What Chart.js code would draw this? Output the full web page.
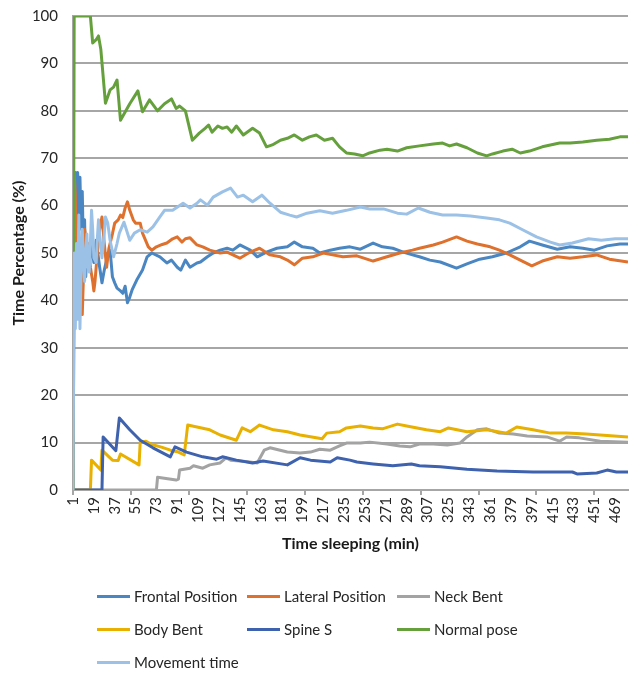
<!DOCTYPE html>
<html><head><meta charset="utf-8">
<script src="https://cdn.jsdelivr.net/npm/chart.js@4/dist/chart.umd.min.js"></script>
<style>
html,body{margin:0;padding:0;background:#fff;}
#wrap{position:relative;width:629px;height:673px;overflow:hidden;}
canvas{position:absolute;left:0;top:0;}
.lg{position:absolute;display:flex;align-items:center;font:15px Lato, sans-serif;color:#262626;white-space:nowrap;height:20px;}
.lg .ln{display:inline-block;width:33px;height:3px;margin-right:4px;}
</style></head><body>
<div id="wrap"><canvas id="c" width="629" height="673"></canvas><div id="legend"></div></div>
<script>
// ---- Tick labels ----
const xTickLabels = [1,19,37,55,73,91,109,127,145,163,181,199,217,235,253,271,289,307,325,343,361,379,397,415,433,451,469];
const xTickMarks = [1,51,101,151,201,251,301,351,401,451];
const yTicks = [0,10,20,30,40,50,60,70,80,90,100];

// ---- Series (minute, value) ----
const frontalMin = [1,2,3,4,5,6,7,8,9,10,11,12,13,15,17,19,21,24,26,28,30,33,35,37,39,42,44,46,48,50,52,56,61,65,69,76,82,86,91,94,98,102,108,111,117,122,128,134,139,145,154,160,168,177,186,192,199,208,214,223,231,240,249,260,268,277,286,294,300,309,318,332,341,352,363,375,387,395,406,419,430,441,451,462,473,480];
const frontalVal = [0,45,67,48,67,58,66,55,63,50,57,45,50,47,52,48,52.7,47,43.7,46.4,48.5,50.6,45,43.7,42.6,42,41.5,43,39.5,40.7,42.2,44.3,46.4,49.2,50,49.2,47.9,48.5,47,46.4,48.5,47,47.9,48.1,49.2,50,50.6,51,50.6,51.7,50.6,49.2,50.2,51,51.3,52.3,51.3,51,50,50.6,51,51.3,50.8,52.1,51.3,51,50.2,49.6,49.2,48.5,48.1,46.8,47.7,48.7,49.2,50,51.3,52.5,51.7,50.8,51.3,51,50.6,51.5,51.9,51.9];

const lateralMin = [1,2,3,4,5,6,7,8,9,10,11,12,13,14,16,18,19,20,22,24,26,28,30,32,35,37,40,42,44,46,48,50,53,55,59,61,66,69,73,78,82,87,91,95,98,102,108,113,119,128,134,139,145,154,162,171,180,186,192,199,208,217,225,234,246,260,272,283,294,300,312,320,332,341,350,361,369,378,387,397,406,419,430,441,453,464,480];
const lateralVal = [0,67,62,45,55,40,50,44,37,45,55,53,48,52,47,44,42,44,50,55,57.6,52,47,51,54,56.3,57,58,57.5,59.5,60.8,59,57,56.3,56.3,54.2,51.3,50.6,51.3,51.8,52.1,53,53.4,52.3,53,53.2,51.7,51.3,50.6,50,50.2,49.6,48.9,50.2,51,49.6,49.2,48.5,47.5,48.9,49.2,50,49.6,49.2,49.4,48.3,49.2,50,50.6,51,51.7,52.3,53.4,52.5,51.9,51.3,50.6,49.6,48.5,47.3,48.3,49.2,48.9,49.2,49.6,48.7,48.1];

const neckMin = [1,73,74,90,92,93,102,105,113,119,128,133,137,150,160,166,171,186,197,206,214,223,231,237,249,257,272,283,292,300,312,324,335,341,350,358,369,381,393,410,421,427,438,456,480];
const neckVal = [0,0,2.7,2.1,2.3,4.2,4.6,5.1,4.6,5.3,5.7,6.8,6.3,6,5.7,8.4,8.9,8,7.8,8,8.6,8.4,9.3,9.9,9.9,10.1,9.7,9.3,9.1,9.7,9.7,9.5,9.9,11.2,12.7,12.9,12,11.8,11.4,11.2,10.3,11.2,11,10.3,10.1];

const bodyMin = [1,16,17,25,26,35,40,42,58,59,64,69,78,85,92,97,100,108,119,128,142,147,154,162,174,186,197,216,220,231,237,249,260,268,281,289,306,318,325,341,358,375,384,398,413,427,444,456,480];
const bodyVal = [0,0,6.3,4.2,8.4,6.3,6.2,7.6,5.3,10.1,10.3,9.6,9,8.4,8,7.4,13.7,13.3,12.7,11.6,10.5,13.1,12.3,13.7,12.7,12.3,11.6,10.8,12,12.3,13.1,13.5,13.1,12.9,13.9,13.5,12.7,12.3,13.1,12.3,12.7,12,13.3,12.7,12,12,11.8,11.6,11.2];

const spineMin = [1,26,27,38,41,50,59,70,85,89,99,113,125,130,142,156,165,186,197,206,223,229,240,246,260,277,293,300,318,341,367,398,432,436,453,462,470,480];
const spineVal = [0,0,11.2,8.3,15.2,12.7,10.5,8.9,7,9.1,8,7,6.5,7,6.3,5.7,6.1,5.3,6.8,6.3,5.9,6.8,6.3,5.9,5.5,5.1,5.5,5.1,4.9,4.4,4,3.8,3.8,3.4,3.6,4.2,3.8,3.8];

const normalMin = [1,2,15,16,18,21,23,25,29,33,36,39,42,50,57,61,67,74,80,86,90,93,98,104,110,115,118,121,126,130,134,138,142,148,156,162,168,173,180,186,192,199,205,211,218,225,231,237,244,251,257,266,272,281,289,300,312,320,326,332,341,350,358,363,372,380,387,395,406,421,430,441,453,464,473,480];
const normalVal = [0,100,100,100,94.3,95,95.8,93,81.6,84.4,85,86.5,78,81.5,84.2,79.8,82.3,80,81.5,82.5,80.5,81,80,73.8,75.3,76.3,77,75.5,76.8,76.3,76.6,75.5,76.8,74.9,76.3,75.3,72.4,72.8,73.8,74.2,74.9,73.8,74.5,74.9,73.8,74.2,72.4,71.1,70.9,70.5,71.1,71.7,71.9,71.5,72.2,72.6,73,73.2,72.6,73,72.2,71.1,70.5,70.9,71.5,71.9,71.1,71.5,72.4,73.2,73.2,73.4,73.8,74,74.5,74.5];

const movementMin = [1,2,3,4,5,6,7,8,9,10,11,12,13,14,15,16,17,18,19,21,22,23,24,26,28,29,31,33,36,39,41,45,50,54,59,65,70,76,80,87,96,102,108,111,117,122,130,137,143,148,156,164,171,180,188,194,203,214,225,237,249,257,269,281,289,299,309,320,332,344,358,369,378,389,401,413,421,432,446,457,469,480];
const movementVal = [0,50,34,52,36,58,34,47,55,49,44,50,54,47,46,52,59,55,49,48,53,57,54,49,54,57.6,56.3,52.7,49.2,52,54.2,56.5,52.7,54.2,54.9,54.4,55.5,57.6,59,59,60.5,59.5,60.5,61.2,60.1,61.8,62.9,63.7,61.8,62.2,60.8,62.2,60.5,58.6,58,57.6,58.4,58.9,58.4,59,59.7,59.3,59.3,58.4,58.2,59.5,58.6,58,58,57.8,57.4,57,56.3,54.9,53.4,52.3,51.7,52.1,53,52.7,53,53];

const seriesNames = ['Frontal Position','Lateral Position','Neck Bent','Body Bent','Spine S','Normal pose','Movement time'];
const seriesColors = ['#4a86c2','#de712d','#a3a3a3','#e8b000','#3e62ad','#65a03d','#9cc1e6'];
const seriesMins = [frontalMin, lateralMin, neckMin, bodyMin, spineMin, normalMin, movementMin];
const seriesVals = [frontalVal, lateralVal, neckVal, bodyVal, spineVal, normalVal, movementVal];

const allXTicks = Array.from(new Set(xTickLabels.concat(xTickMarks))).sort((a,b)=>a-b);

function build(){
  const datasets = seriesNames.map((name, i) => ({
    label: name,
    data: seriesMins[i].map((m, k) => ({x: m, y: seriesVals[i][k]})),
    borderColor: seriesColors[i],
    backgroundColor: seriesColors[i],
    borderWidth: 3,
    pointRadius: 0,
    tension: 0,
    fill: false,
    borderJoinStyle: 'round',
    order: seriesNames.length - 1 - i
  }));

  new Chart(document.getElementById('c'), {
    type: 'line',
    data: { datasets },
    options: {
      responsive: false,
      animation: false,
      devicePixelRatio: 1,
      layout: { padding: { left: 0, right: 1, top: 16, bottom: 116 } },
      plugins: { legend: { display: false }, tooltip: { enabled: false } },
      scales: {
        x: {
          type: 'linear', min: 1, max: 480,
          afterBuildTicks: s => { s.ticks = allXTicks.map(v => ({ value: v })); },
          afterFit: s => { s.height = 67; s.paddingLeft = 0; s.paddingRight = 0; },
          ticks: {
            autoSkip: false, minRotation: 90, maxRotation: 90, padding: 2,
            color: '#262626', font: { family: 'Lato', size: 15 },
            callback: v => xTickLabels.includes(v) ? String(v) : ''
          },
          grid: {
            drawOnChartArea: false, drawTicks: true, tickLength: 5, lineWidth: 2,
            color: c => (c.tick && xTickMarks.includes(c.tick.value)) ? '#a6a6a6' : 'rgba(0,0,0,0)'
          },
          border: { display: true, color: '#a6a6a6', width: 2 },
          title: { display: true, text: 'Time sleeping (min)', color: '#1a1a1a',
            font: { family: 'Lato', size: 16, weight: 'bold' }, padding: { top: 4, bottom: 4 } }
        },
        y: {
          min: 0, max: 100,
          afterBuildTicks: s => { s.ticks = yTicks.map(v => ({ value: v })); },
          afterFit: s => { s.width = 73; s.paddingTop = 0; s.paddingBottom = 0; },
          ticks: { padding: 15, color: '#262626', font: { family: 'Lato', size: 15 } },
          grid: { color: '#a6a6a6', lineWidth: 2, drawTicks: false },
          border: { display: true, color: '#a6a6a6', width: 2 },
          title: { display: true, text: 'Time Percentage (%)', color: '#1a1a1a',
            font: { family: 'Lato', size: 16, weight: 'bold' }, padding: { top: 9, bottom: 0 } }
        }
      }
    }
  });

  // HTML legend in three columns
  const colX = [97, 247, 397];
  const rowY = [596, 629, 662];
  const lg = document.getElementById('legend');
  seriesNames.forEach((name, i) => {
    const d = document.createElement('div');
    d.className = 'lg';
    d.style.left = colX[i % 3] + 'px';
    d.style.top = (rowY[Math.floor(i / 3)] - 10) + 'px';
    const ln = document.createElement('span');
    ln.className = 'ln';
    ln.style.background = seriesColors[i];
    d.appendChild(ln);
    d.appendChild(document.createTextNode(name));
    lg.appendChild(d);
  });
}

if (document.fonts && document.fonts.load) {
  Promise.all([document.fonts.load('15px Lato'), document.fonts.load('bold 16px Lato')]).then(build, build);
} else { build(); }
</script>
</body></html>
